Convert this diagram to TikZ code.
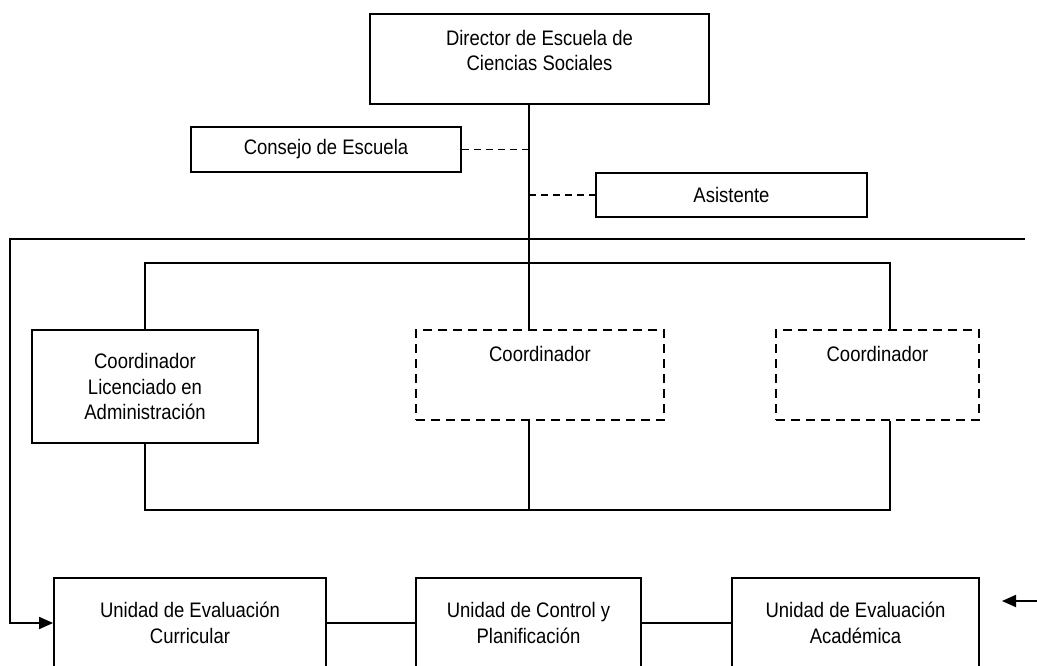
\documentclass[tikz,border=0pt]{standalone}
\usepackage{fontspec}
\setmainfont[FakeStretch=0.88]{Liberation Sans}
\usetikzlibrary{positioning, arrows.meta}

\begin{document}
\begin{tikzpicture}[
        x=1pt, y=-1pt,
        line width=1.8pt,
        every node/.style={font=\fontsize{21}{25.5}\selectfont, align=center},
        box/.style={draw, inner sep=0pt},
        dbox/.style={box, dash pattern=on 9pt off 6pt},
        dline/.style={dash pattern=on 7pt off 5pt},
        arr/.style={-{Triangle[length=14pt,width=12pt]}}]

        \useasboundingbox (0,0) rectangle (1037,665);

        \node[box, minimum width=339pt, minimum height=90pt, text height=56.5pt, text depth=33.5pt] (dir) at (539.5,59) {Director de Escuela de\\Ciencias Sociales};
        \node[box, minimum width=270pt, minimum height=45pt] (consejo) at (326,149.5) {Consejo de Escuela};
        \node[box, minimum width=271pt, minimum height=44pt] (asist) at (731.5,195) {Asistente};

        \node[box, minimum width=226pt, minimum height=113pt] (c1) at (145,386.5) {Coordinador\\Licenciado en\\Administración};
        \node[dbox, minimum width=248pt, minimum height=90pt, text height=31pt, text depth=59pt] (c2) at (540,375) {Coordinador};
        \node[dbox, minimum width=203pt, minimum height=90pt, text height=31pt, text depth=59pt] (c3) at (877.5,375) {Coordinador};

        \node[box, minimum width=272pt, minimum height=90pt] (ua) at (190,623) {Unidad de Evaluación\\Curricular};
        \node[box, minimum width=225pt, minimum height=90pt] (ub) at (528.5,623) {Unidad de Control y\\Planificación};
        \node[box, minimum width=247pt, minimum height=90pt] (uc) at (855.5,623) {Unidad de Evaluación\\Académica};

        \coordinate (spine) at (529,239);
        \coordinate (lt) at (10,239);
        \coordinate (rt) at (1025,239);
        \coordinate (bt) at (890,263);
        \coordinate (bb) at (890,510);
        \coordinate (bbm) at (529,510);
        \coordinate (inr) at (1037,601);
        \coordinate (tipr) at (1002,601);

        \draw (dir.south -| spine) -- (c2.north -| spine);
        \draw[dline] (consejo.east) -- (consejo.east -| spine);
        \draw[dline] (asist.west -| spine) -- (asist.west);
        \draw[arr] (rt) -- (lt) |- (ua.west);
        \draw (c1.north) |- (bt) -- (c3.north -| bt);
        \draw (c1.south) |- (bb) -- (c3.south -| bb);
        \draw (c2.south -| bbm) -- (bbm);
        \draw (ua.east) -- (ub.west);
        \draw (ub.east) -- (uc.west);
        \draw[arr] (inr) -- (tipr);

\end{tikzpicture}
\end{document}
